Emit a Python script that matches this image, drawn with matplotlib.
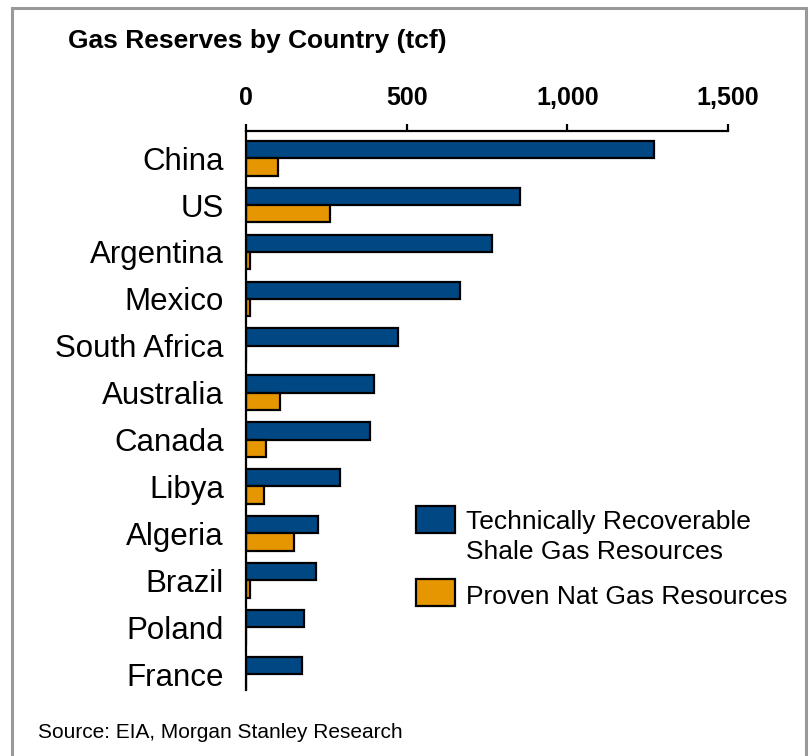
import matplotlib
matplotlib.use("Agg")
import matplotlib.pyplot as plt
import numpy as np
from matplotlib.patches import Rectangle

plt.rcParams['font.family'] = ['Liberation Sans', 'DejaVu Sans']

countries = ["China", "US", "Argentina", "Mexico", "South Africa", "Australia",
             "Canada", "Libya", "Algeria", "Brazil", "Poland", "France"]
shale = [1269, 852, 765, 666, 473, 398, 386, 292, 224, 218, 180, 174]
proven = [100, 261, 12, 12, 0, 106, 62, 56, 149, 12, 0, 0]
xticks = [0, 500, 1000, 1500]
xticklabels = ["0", "500", "1,000", "1,500"]
shale_label = ["Technically Recoverable", "Shale Gas Resources"]
proven_label = "Proven Nat Gas Resources"

blue = "#004884"
orange = "#E69600"

W, H = 812, 756
fig = plt.figure(figsize=(W / 100, H / 100), dpi=100)
ax = fig.add_axes([246 / W, 66 / H, (728 - 246) / W, (690 - 131) / H])

y = np.arange(len(countries))
h = 0.37
ax.barh(y - h / 2, shale, height=h, color=blue, edgecolor="black", linewidth=1.6)
ax.barh(y + h / 2, proven, height=h, color=orange, edgecolor="black", linewidth=1.6)

ax.set_xlim(0, 1500)
ax.set_ylim(len(countries) - 1 + 0.34, -0.58)
ax.xaxis.tick_top()
ax.set_xticks(xticks)
ax.set_xticklabels(xticklabels, fontsize=18, fontweight="bold")
ax.tick_params(axis="x", direction="out", length=5, width=1.6, pad=10)
ax.set_yticks(y)
ax.set_yticklabels(countries, fontsize=22.5)
ax.tick_params(axis="y", length=0, pad=16)
for side in ["right", "bottom"]:
    ax.spines[side].set_visible(False)
for side in ["top", "left"]:
    ax.spines[side].set_linewidth(1.6)

fig.text(68 / W, 1 - 41 / H, "Gas Reserves by Country (tcf)", fontsize=19,
         fontweight="bold", va="center", ha="left")
fig.text(38 / W, 1 - 733 / H, "Source: EIA, Morgan Stanley Research", fontsize=15,
         va="center", ha="left")

# legend: colour keys with their labels
for top, color in [(506, blue), (579, orange)]:
    fig.patches.append(Rectangle((416 / W, 1 - (top + 27) / H), 39 / W, 27 / H,
                                 transform=fig.transFigure, facecolor=color,
                                 edgecolor="black", linewidth=1.6))
fig.text(466 / W, 1 - 522 / H, shale_label[0], fontsize=19, va="center", ha="left")
fig.text(466 / W, 1 - 552 / H, shale_label[1], fontsize=19, va="center", ha="left")
fig.text(466 / W, 1 - 597 / H, proven_label, fontsize=19, va="center", ha="left")

# grey frame around the exhibit
fig.patches.append(Rectangle((12 / W, -0.05), (806 - 12) / W, 1.05 - 8 / H,
                             transform=fig.transFigure, fill=False,
                             edgecolor="#999999", linewidth=2.2))

fig.savefig("out.png", dpi=100)
